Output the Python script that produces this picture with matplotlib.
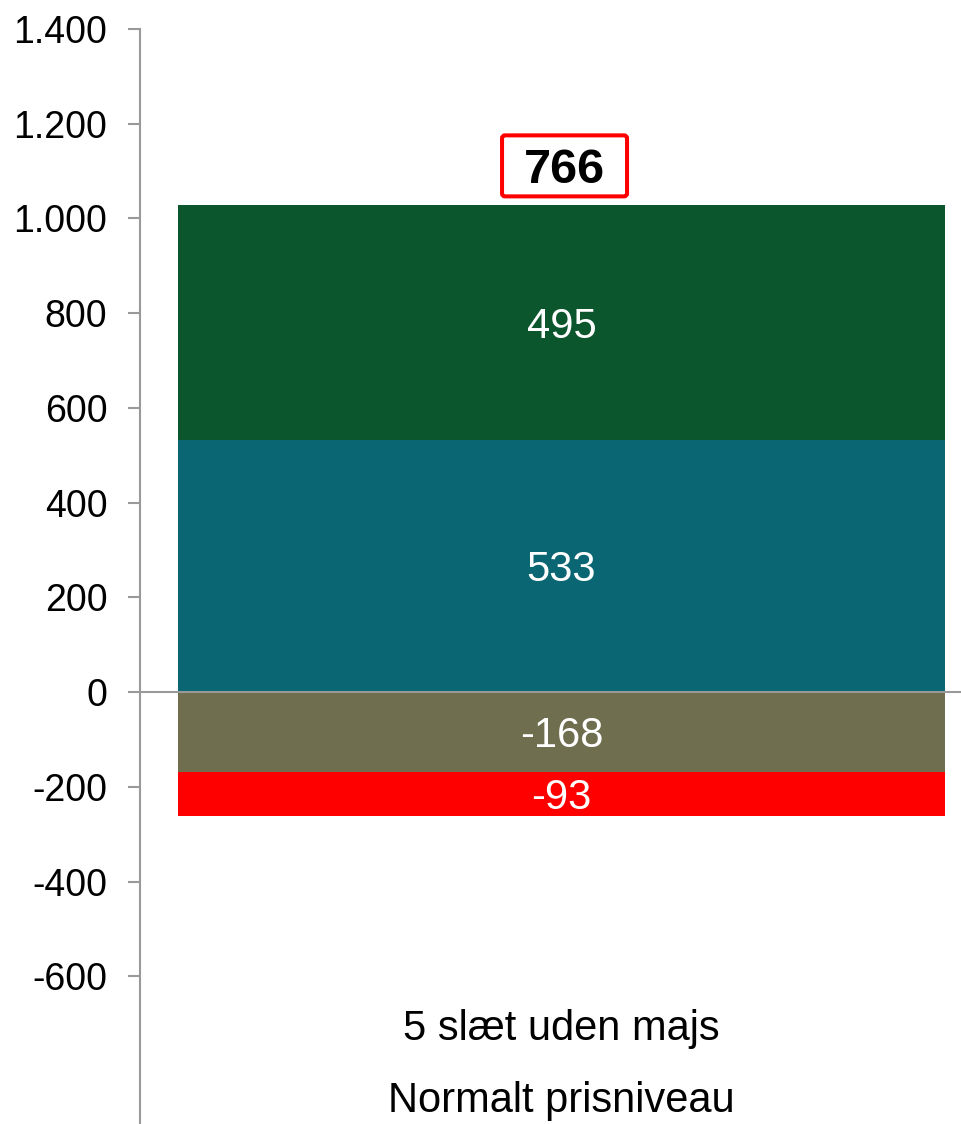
import matplotlib
matplotlib.use("Agg")
import matplotlib.pyplot as plt
import matplotlib.transforms as mtransforms
from matplotlib.patches import FancyBboxPatch
from matplotlib.ticker import FuncFormatter

plt.rcParams['font.family'] = ['Liberation Sans', 'DejaVu Sans']

# Data
category_lines = ["5 slæt uden majs", "Normalt prisniveau"]
segment_values = [533, 495, -168, -93]
segment_colors = ["#0A6672", "#0B562D", "#6F6E4F", "#FF0000"]
total_label = 766
yticks = [-600, -400, -200, 0, 200, 400, 600, 800, 1000, 1200, 1400]

W, H = 962, 1124
fig = plt.figure(figsize=(W / 100, H / 100), dpi=100)
ax = fig.add_axes([140 / W, 0, (W - 140) / W, 1 - 29 / H])

ax.set_ylim(-912, 1400)
ax.set_xlim(-0.5495, 0.5222)

pos_base = 0
neg_base = 0
for v, c in zip(segment_values, segment_colors):
    if v >= 0:
        ax.bar(0, v, bottom=pos_base, width=1.0, color=c, zorder=2)
        ax.text(0, pos_base + v / 2, f"{v}", ha='center', va='center_baseline',
                color='white', fontsize=30, zorder=3)
        pos_base += v
    else:
        ax.bar(0, v, bottom=neg_base, width=1.0, color=c, zorder=2)
        ax.text(0, neg_base + v / 2, f"{v}", ha='center', va='center_baseline',
                color='white', fontsize=30, zorder=3)
        neg_base += v

top = pos_base
# total label with red box
yc = top + 83
ax.text(0.004, yc, f"{total_label}", ha='center', va='center_baseline', fontsize=35,
        fontweight='bold', color='black', zorder=4)
trans = fig.dpi_scale_trans + mtransforms.ScaledTranslation(0.004, yc, ax.transData)
r = 0.03
box = FancyBboxPatch((-0.625 + r, -0.305 + r), 1.25 - 2 * r, 0.61 - 2 * r,
                     boxstyle=f"round,pad={r}", transform=trans,
                     facecolor='white', edgecolor='#FF0000', linewidth=2.9,
                     zorder=3.5, clip_on=False)
ax.add_patch(box)

# spines
for s in ['top', 'right']:
    ax.spines[s].set_visible(False)
ax.spines['left'].set_color('#999999')
ax.spines['left'].set_linewidth(1.5)
ax.spines['bottom'].set_position(('data', 0))
ax.spines['bottom'].set_color('#999999')
ax.spines['bottom'].set_linewidth(1.5)
ax.spines['bottom'].set_zorder(5)

ax.set_yticks(yticks)
ax.yaxis.set_major_formatter(FuncFormatter(lambda v, p: f"{int(v):,}".replace(",", ".")))
ax.tick_params(axis='y', length=8.5, width=1.5, color='#999999', labelsize=27,
               pad=15, labelcolor='black')
ax.set_xticks([])

# category labels
ax.text(0.0, -735, category_lines[0], ha='center', va='baseline', fontsize=30)
ax.text(0.0, -887, category_lines[1], ha='center', va='baseline', fontsize=30)

fig.savefig("out.png", dpi=100, facecolor='white')
